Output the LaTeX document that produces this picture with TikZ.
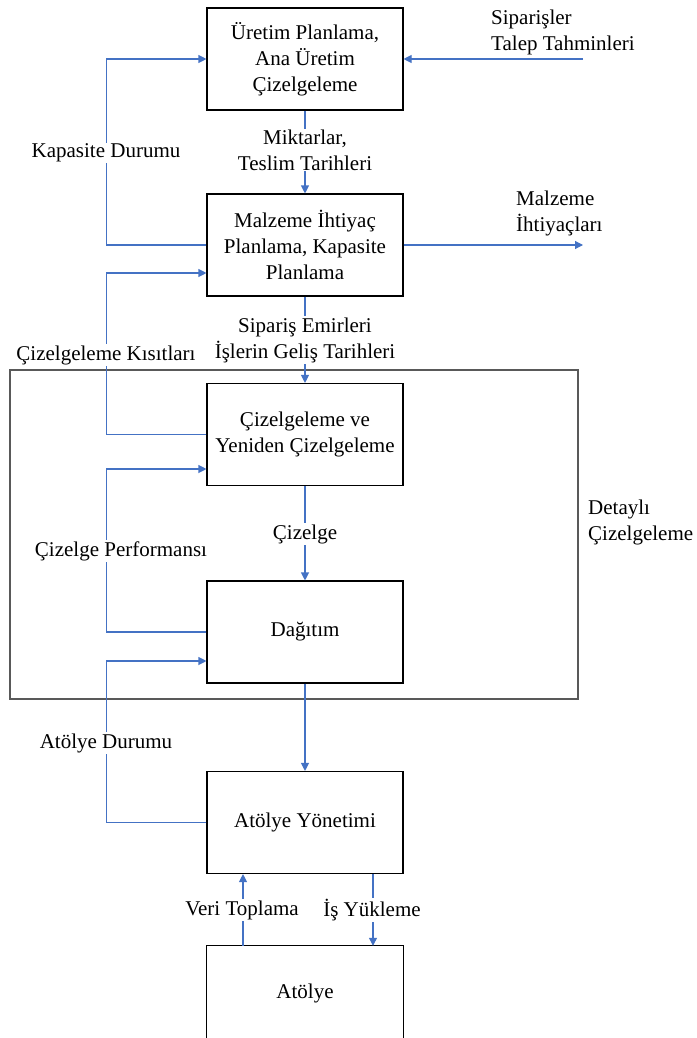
\documentclass[tikz,border=0pt]{standalone}
\usepackage{fontspec}
\setmainfont{Liberation Serif}
\usetikzlibrary{arrows.meta,calc}
\definecolor{flow}{HTML}{4472C4}
\definecolor{framegray}{HTML}{595959}

\begin{document}
\begin{tikzpicture}[x=1pt,y=-1pt,
  every node/.style={font=\fontsize{21}{26}\selectfont},
  proc/.style={draw=black, line width=1.1pt, minimum width=196pt, minimum height=102pt, align=center, inner sep=0pt},
  flowline/.style={draw=flow, line width=1.1pt},
  flowarrow/.style={flowline, -{Triangle[length=8pt,width=8pt]}},
  lbl/.style={fill=white, align=center, inner sep=1pt},
  sidelbl/.style={anchor=west, align=left, inner sep=0pt}
]
\useasboundingbox (0,0) rectangle (696,1038);

% frame of the detailed scheduling level
\node[draw=framegray, line width=1.3pt, minimum width=568pt, minimum height=329pt, inner sep=0pt] (detail) at (294,534.5) {};

% process boxes
\node[proc] (mps) at (305,59) {Üretim Planlama,\\Ana Üretim\\Çizelgeleme};
\node[proc] (mrp) at (305,245) {Malzeme İhtiyaç\\Planlama, Kapasite\\Planlama};
\node[proc] (sched) at (305,434.5) {Çizelgeleme ve\\Yeniden Çizelgeleme};
\node[proc] (disp) at (305,632) {Dağıtım};
\node[proc] (shopmgmt) at (305,822.5) {Atölye Yönetimi};
\node[minimum width=196pt, minimum height=94pt, inner sep=0pt] (shop) at (305,993) {Atölye};
\draw[black, line width=1.1pt] (shop.south west) -- (shop.north west) -- (shop.north east) -- (shop.south east);

% free ends of the outside flows
\coordinate (ordersrc) at (583,59);
\coordinate (matout) at (583,245);

% main downward flow
\draw[flowarrow] (ordersrc) -- (mps.east);
\draw[flowarrow] (mps.south) -- (mrp.north);
\draw[flowarrow] (mrp.east) -- (matout);
\draw[flowarrow] (mrp.south) -- (sched.north);
\draw[flowarrow] (sched.south) -- (disp.north);
\draw[flowarrow] (disp.south) -- (shopmgmt.north);
\draw[flowarrow] ($(shopmgmt.south)+(68,0)$) -- ($(shop.north)+(68,0)$);
\draw[flowarrow] ($(shop.north)+(-62,0)$) -- ($(shopmgmt.south)+(-62,0)$);

% feedback loops on the left
\draw[flowarrow] (mrp.west) -- ++(-100,0) |- (mps.west);
\draw[flowarrow] (sched.west) -- ++(-100,0) |- ($(mrp.west)+(0,28)$);
\draw[flowarrow] (disp.west) -- ++(-100,0) |- ($(sched.west)+(0,34.5)$);
\draw[flowarrow] (shopmgmt.west) -- ++(-100,0) |- ($(disp.west)+(0,29)$);

% labels on the flows
\node[lbl] (lblqty) at (305,150) {Miktarlar,\\Teslim Tarihleri};
\node[lbl] (lblorders) at (305,340) {Sipariş Emirleri\\İşlerin Geliş Tarihleri};
\node[lbl] (lblsched) at (305,534) {Çizelge};
\node[lbl] (lblcap) at (106,153) {Kapasite Durumu};
\node[lbl] (lblcons) at (106,355) {Çizelgeleme Kısıtları};
\node[lbl] (lblperf) at (121,551) {Çizelge Performansı};
\node[lbl] (lblstat) at (106,743) {Atölye Durumu};
\node[lbl] (lbldata) at (242,910) {Veri Toplama};
\node[lbl] (lblload) at (372,910) {İş Yükleme};

% outside labels
\node[sidelbl] (lbldemand) at (491,32) {Siparişler\\Talep Tahminleri};
\node[sidelbl] (lblmat) at (516,213) {Malzeme\\İhtiyaçları};
\node[sidelbl] (lbldetail) at (588,522) {Detaylı\\Çizelgeleme};
\end{tikzpicture}
\end{document}
